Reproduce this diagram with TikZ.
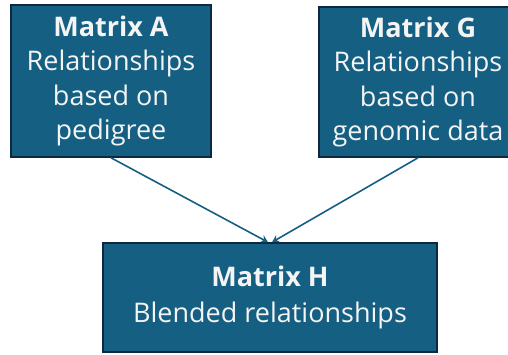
\documentclass[tikz,border=0pt]{standalone}
\usepackage{fontspec}
\setmainfont{Open Sans}
\usetikzlibrary{arrows.meta}
\definecolor{boxfill}{HTML}{156082}
\definecolor{boxline}{HTML}{0E2841}
\definecolor{txt}{HTML}{F4F4F4}
\tikzset{
  mbox/.style={draw=boxline, line width=1.6pt, fill=boxfill, text=txt,
    align=center, inner sep=0pt, font=\fontsize{27}{34.5}\selectfont},
  conn/.style={draw=boxfill, line width=1.6pt, -{Stealth[length=7pt,width=8pt]}}
}
\begin{document}
\begin{tikzpicture}[x=1pt,y=-1pt]
\clip (0,0) rectangle (508,354);
\fill[white] (0,0) rectangle (508,354);
\node[mbox, minimum width=200pt, minimum height=152pt] (A) at (111,81)
  {\textbf{Matrix A}\\Relationships\\based on\\pedigree};
\node[mbox, minimum width=198pt, minimum height=150pt] (G) at (418,82)
  {\textbf{Matrix G}\\Relationships\\based on\\genomic data};
\node[mbox, minimum width=334pt, minimum height=109pt, font=\fontsize{27}{36}\selectfont] (H) at (270,297.5)
  {\textbf{Matrix H}\\Blended relationships};
\draw[conn] (A.south) -- ([xshift=-2pt]H.north);
\draw[conn] (G.south) -- ([xshift=2pt]H.north);
\end{tikzpicture}
\end{document}
